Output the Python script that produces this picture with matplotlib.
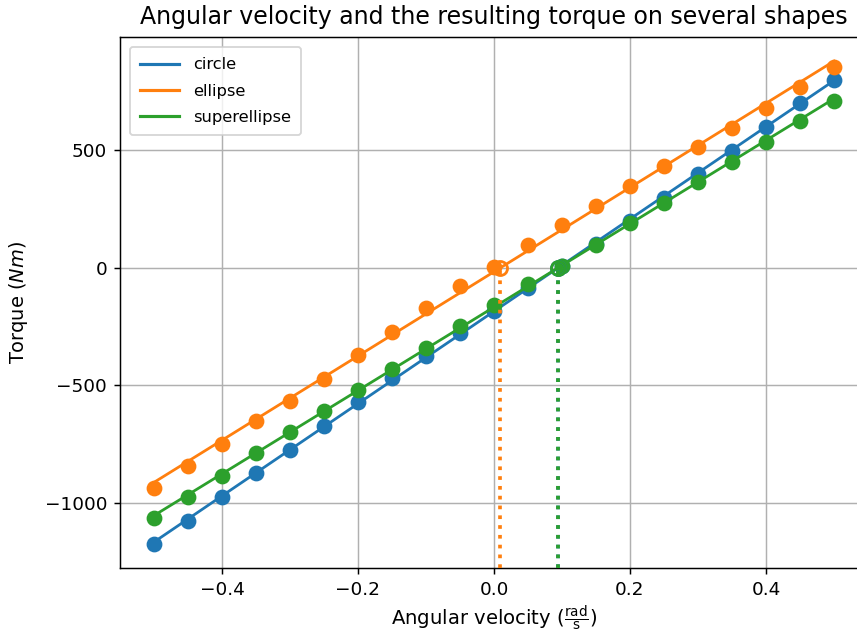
import numpy as np
import matplotlib
matplotlib.use("Agg")
import matplotlib.pyplot as plt

# ---- data ----
omega = [-0.5, -0.45, -0.4, -0.35, -0.3, -0.25, -0.2, -0.15, -0.1, -0.05, 0.0,
         0.05, 0.1, 0.15, 0.2, 0.25, 0.3, 0.35, 0.4, 0.45, 0.5]
torque_circle = [-1172, -1075, -973, -871, -773, -671, -569, -467, -374, -276, -183,
                 -85, 8, 102, 200, 297, 399, 497, 599, 701, 799]
torque_ellipse = [-935, -841, -748, -650, -565, -472, -370, -272, -170, -76, 4,
                  98, 183, 263, 348, 433, 514, 595, 680, 769, 854]
torque_superellipse = [-1062, -973, -884, -786, -697, -607, -518, -429, -340, -246, -157,
                       -68, 8, 98, 191, 276, 365, 450, 535, 624, 709]
shape_names = ["circle", "ellipse", "superellipse"]
colors = ["#1f77b4", "#ff7f0e", "#2ca02c"]
y_limits = (-1274, 980)

series = [torque_circle, torque_ellipse, torque_superellipse]

DPI = 133
fig = plt.figure(figsize=(857 / DPI, 637 / DPI), dpi=DPI)
ax = fig.add_axes([120 / 857, (637 - 567.7) / 637, 748 / 857, 530.7 / 637])

x = np.array(omega)
roots = []
for name, ys, c in zip(shape_names, series, colors):
    y = np.array(ys, dtype=float)
    ax.scatter(x, y, s=57, color=c, zorder=2)
    k, b = np.polyfit(x, y, 1)
    ax.plot(x, k * x + b, color=c, lw=1.5, label=name, zorder=2)
    roots.append(-b / k)

for r, c in zip(roots, colors):
    ax.plot([r], [0], marker="o", ms=7.6, mfc="none", mec=c, mew=1.5, zorder=3)
    ax.vlines(r, y_limits[0], 0, colors=c, linestyles=":", lw=2, zorder=3)

ax.set_ylim(*y_limits)
ax.set_xlim(-0.55, 0.55)
ax.set_yticks([-1000, -500, 0, 500])
ax.grid(True)
ax.set_axisbelow(True)
ax.set_xlabel(r"Angular velocity ($\frac{\mathrm{rad}}{\mathrm{s}}$)", fontsize=10.6, labelpad=3)
ax.set_ylabel(r"Torque ($Nm$)", fontsize=10.5, labelpad=8)
ax.set_title("Angular velocity and the resulting torque on several shapes", fontsize=12.8, pad=7)
leg = ax.legend(loc="upper left", fontsize=8.8, labelspacing=0.7, handlelength=2.4,
                handletextpad=0.85, borderpad=0.62, borderaxespad=0.63)
for h in leg.get_lines():
    h.set_linewidth(1.7)

fig.savefig("out.png", dpi=DPI)
